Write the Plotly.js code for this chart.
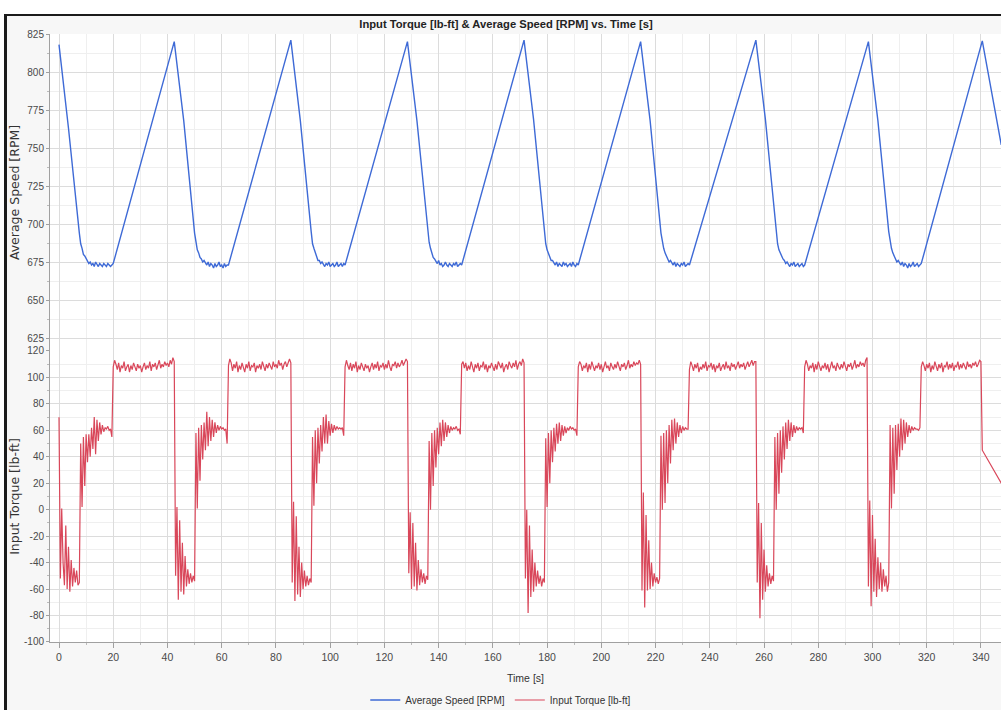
<!DOCTYPE html>
<html>
<head>
<meta charset="utf-8">
<script src="https://cdn.plot.ly/plotly-3.0.1.min.js"></script>
<style>
html,body{margin:0;padding:0;background:#ffffff;width:1001px;height:710px;overflow:hidden;}
#frame{position:absolute;left:4px;top:14px;width:997px;height:712px;border-left:3px solid #1b1b1b;border-top:2px solid #1b1b1b;background:#f7f7f7;}
#chart{width:994px;height:710px;}
</style>
</head>
<body>
<div id="frame"><div id="chart"></div></div>
<script>
// ---------------- DATA ----------------
// Start time [s] of each cycle (moment of peak speed / torque drop)
const cycleStarts = [0, 42.5, 85.5, 128.5, 171.5, 214.5, 257, 298.5, 340.5];
// Torque is logged every 0.5 s inside each cycle
const torqueSampleStep = 0.5;

const torqueCycle1 = [70, -52, 1, -40, -57, -12, -60, -28, -62, -38, -58, -44, -55, -46, -57, -55,
  50, 2, 55, 18, 57, 36, 57, 40, 62, 46, 70, 42, 68, 52, 66, 57, 64, 59, 62, 61, 63, 60, 61, 55,
  108, 113, 110, 106, 111, 104, 109, 107, 112, 105, 108, 110, 104, 109, 106, 111, 108, 105, 110, 107,
  109, 104, 108, 111, 106, 109, 107, 112, 105, 110, 108, 111, 106, 109, 113, 107, 110, 108, 112, 109,
  111, 108, 113, 110, 115];
const torqueCycle2 = [112, -50, 2, -68, -8, -62, -25, -64, -35, -58, -45, -56, -48, -55, -50, -54,
  58, 1, 62, 22, 64, 38, 66, 45, 74, 48, 70, 52, 68, 55, 66, 58, 64, 60, 63, 61, 62, 60, 61, 50,
  109, 114, 111, 105, 110, 107, 112, 104, 109, 106, 111, 108, 104, 110, 107, 112, 105, 109, 108, 111,
  104, 109, 107, 110, 106, 112, 108, 105, 110, 107, 111, 109, 106, 112, 108, 110, 107, 113, 109, 111,
  106, 110, 112, 108, 111, 114];
const torqueCycle3 = [111, -55, 6, -69, -5, -64, -28, -66, -40, -60, -46, -58, -50, -57, -52, -55,
  55, 3, 60, 20, 62, 35, 64, 44, 70, 50, 72, 50, 67, 56, 65, 58, 64, 60, 63, 61, 62, 61, 62, 56,
  108, 113, 109, 106, 111, 105, 110, 107, 112, 104, 109, 106, 111, 108, 105, 110, 107, 109, 104, 108,
  111, 106, 110, 107, 112, 105, 109, 108, 111, 106, 110, 107, 113, 108, 105, 110, 109, 112, 107, 111,
  108, 110, 113, 109, 112, 114];
const torqueCycle4 = [112, -48, -2, -60, -10, -58, -25, -61, -38, -57, -45, -55, -48, -56, -50, -53,
  52, 0, 58, 18, 60, 32, 62, 42, 66, 48, 68, 52, 66, 55, 64, 58, 63, 60, 62, 61, 63, 60, 61, 57,
  110, 112, 107, 111, 105, 109, 106, 112, 108, 104, 110, 107, 111, 105, 109, 108, 112, 106, 110, 104,
  109, 107, 111, 108, 105, 110, 106, 112, 109, 107, 111, 104, 108, 110, 106, 112, 109, 107, 111, 108,
  113, 106, 110, 112, 109, 114];
const torqueCycle5 = [111, -52, 0, -78, -12, -66, -30, -62, -40, -58, -46, -56, -50, -58, -52, -55,
  54, 2, 58, 20, 60, 36, 62, 44, 65, 50, 66, 52, 64, 56, 63, 58, 62, 60, 63, 61, 62, 60, 61, 56,
  108, 112, 110, 105, 109, 107, 111, 104, 110, 106, 112, 108, 105, 109, 107, 111, 106, 110, 104, 108,
  112, 107, 109, 105, 111, 108, 106, 110, 107, 112, 109, 105, 110, 108, 111, 106, 109, 113, 107, 110,
  108, 112, 109, 111, 110, 113];
const torqueCycle6 = [110, -61, 13, -74, -4, -61, -23, -60, -40, -58, -48, -55, -51, -56, -52,
  56, 0, 58, 5, 60, 20, 64, 35, 68, 45, 69, 50, 66, 55, 64, 58, 63, 60, 62, 61, 61,
  106, 112, 109, 105, 110, 107, 111, 104, 108, 106, 110, 107, 112, 105, 109, 108, 111, 106, 110, 104,
  109, 107, 111, 105, 108, 110, 106, 112, 107, 109, 105, 111, 108, 110, 106, 109, 112, 107, 110, 108,
  111, 106, 109, 112, 108, 110, 113, 109, 112];
const torqueCycle7 = [112, -55, 5, -82, -10, -68, -30, -62, -42, -58, -48, -56, -50, -54,
  55, 0, 58, 12, 60, 28, 63, 38, 66, 46, 68, 52, 66, 55, 64, 58, 63, 60, 62, 61, 62, 58,
  108, 113, 110, 105, 109, 107, 111, 104, 110, 106, 112, 108, 105, 109, 107, 111, 106, 110, 104, 108,
  112, 107, 109, 105, 111, 108, 106, 110, 107, 112, 109, 105, 110, 108, 111, 106, 109, 113, 107, 110,
  108, 112, 109, 111, 108, 113, 115];
const torqueCycle8 = [-58, 7, -73, -4, -62, -22, -66, -36, -60, -40, -62, -45, -58, -50, -62, -55,
  64, 1, 62, 12, 64, 30, 65, 40, 69, 45, 68, 50, 66, 55, 64, 58, 63, 60, 62, 61, 61, 60, 62,
  108, 112, 109, 105, 110, 107, 111, 104, 109, 106, 112, 108, 105, 110, 107, 111, 104, 109, 108, 112,
  106, 110, 107, 111, 105, 109, 108, 112, 106, 110, 107, 111, 109, 106, 112, 108, 110, 107, 111, 109,
  112, 108, 110, 113, 112];
const torqueCycle9 = [45];
const torqueTailTimes = [347.5];
const torqueTailValues = [20];

// Speed: first values at these offsets after the cycle start, then the
// settling/bottom part logged every 0.5 s from 7.5 s; the rise to the next peak is a straight run.
const speedDropOffsets = [0, 3.5];
const speedBottomOffset = 7.5;
const speedBottomStep = 0.5;
const speedCycle1 = [818, 763, 694, 687, 684, 680, 679, 677, 676, 674, 675, 673, 674, 672, 675, 673, 672, 674, 673, 672, 674, 673, 672, 674, 673, 672, 673, 674];
const speedCycle2 = [820, 768, 694, 688, 683, 681, 678, 677, 675, 676, 674, 673, 675, 672, 674, 673, 671, 674, 672, 673, 675, 672, 673, 671, 674, 672, 673, 673];
const speedCycle3 = [821, 768, 695, 687, 684, 681, 679, 676, 676, 674, 675, 673, 672, 674, 673, 675, 672, 673, 674, 672, 673, 675, 672, 673, 674, 672, 674, 673];
const speedCycle4 = [820, 768, 694, 688, 684, 680, 678, 677, 675, 674, 676, 673, 674, 672, 673, 675, 673, 672, 674, 673, 672, 674, 673, 675, 672, 673, 674, 673];
const speedCycle5 = [821, 769, 693, 687, 683, 681, 678, 676, 676, 674, 673, 675, 672, 674, 673, 672, 675, 673, 674, 672, 673, 674, 672, 675, 673, 672, 674, 673];
const speedCycle6 = [820, 768, 694, 688, 684, 681, 679, 677, 675, 676, 674, 673, 675, 672, 674, 673, 672, 674, 673, 675, 672, 673, 674, 673];
const speedCycle7 = [821, 769, 694, 687, 683, 681, 678, 677, 676, 674, 675, 673, 672, 674, 673, 675, 672, 673, 674, 672, 673, 674, 672, 673];
const speedCycle8 = [820, 768, 695, 688, 684, 681, 679, 677, 675, 676, 674, 673, 675, 672, 674, 673, 671, 674, 672, 673, 675, 672, 673, 674, 672, 673, 674];
const speedCycle9 = [820.5];
const speedTailTimes = [347.5];
const speedTailValues = [752];

const seriesNames = ['Average Speed [RPM]', 'Input Torque [lb-ft]'];
const xTickStep = 20;
const speedTickValues = [625, 650, 675, 700, 725, 750, 775, 800, 825];
const torqueTickValues = [-100, -80, -60, -40, -20, 0, 20, 40, 60, 80, 100, 120];
const torqueTickLabels = ['-100', '-80', '-60', '-40', '-20', '0', '20', '40', '60', '80', '100', '120'];

// ---------------- BUILD SERIES ----------------
const torqueCycles = [torqueCycle1, torqueCycle2, torqueCycle3, torqueCycle4, torqueCycle5,
  torqueCycle6, torqueCycle7, torqueCycle8, torqueCycle9];
const speedCycles = [speedCycle1, speedCycle2, speedCycle3, speedCycle4, speedCycle5,
  speedCycle6, speedCycle7, speedCycle8, speedCycle9];

const tqX = [], tqY = [];
torqueCycles.forEach((vals, k) => vals.forEach((v, j) => {
  tqX.push(cycleStarts[k] + j * torqueSampleStep); tqY.push(v);
}));
tqX.push(...torqueTailTimes); tqY.push(...torqueTailValues);

const spX = [], spY = [];
speedCycles.forEach((vals, k) => vals.forEach((v, j) => {
  const rel = j < speedDropOffsets.length ? speedDropOffsets[j]
    : speedBottomOffset + (j - speedDropOffsets.length) * speedBottomStep;
  spX.push(cycleStarts[k] + rel); spY.push(v);
}));
spX.push(...speedTailTimes); spY.push(...speedTailValues);

// ---------------- PLOT ----------------
const sans = 'Liberation Sans, Arial, sans-serif';
const yTickFont = {family: sans, size: 10, color: '#4a4a4a'};
const xTickFont = {family: sans, size: 10.5, color: '#4a4a4a'};
const splitFrac = 0.47862;

const traces = [
  {x: spX, y: spY, xaxis: 'x', yaxis: 'y', type: 'scatter', mode: 'lines',
   name: seriesNames[0], line: {color: '#3e6ad6', width: 1.4}},
  {x: tqX, y: tqY, xaxis: 'x', yaxis: 'y2', type: 'scatter', mode: 'lines',
   name: seriesNames[1], line: {color: '#d9475a', width: 1.2}}
];

const gridMajor = '#dcdcdc', gridMinor = '#efefef', lineCol = '#a0a0a0';

// figure is 710 px tall (bottom 16 px fall outside the window, as in the cropped original)
const layout = {
  width: 994, height: 710,
  margin: {l: 43, r: 0, t: 18, b: 84, pad: 0},
  paper_bgcolor: '#f7f7f7', plot_bgcolor: '#ffffff',
  showlegend: true,
  title: {text: 'Input Torque [lb-ft] & Average Speed [RPM] vs. Time [s]',
    font: {family: sans, size: 11.2, color: '#222222', weight: 'bold'},
    x: 0.502, xref: 'container', xanchor: 'center',
    y: 1 - 8 / 710, yref: 'container', yanchor: 'middle'},
  xaxis: {domain: [0, 1], anchor: 'y2', range: [-3.32, 347.4],
    tick0: 0, dtick: xTickStep, ticks: 'outside', ticklen: 5, tickcolor: lineCol,
    ticklabelstandoff: 0,
    showline: true, linecolor: lineCol, linewidth: 1, zeroline: false,
    showgrid: true, gridcolor: gridMajor, gridwidth: 1,
    minor: {dtick: xTickStep / 2, ticks: 'outside', ticklen: 2, tickcolor: '#bbbbbb', showgrid: true, gridcolor: gridMinor},
    tickfont: xTickFont, automargin: false,
    title: {text: 'Time [s]', font: {family: sans, size: 10.5, color: '#333333'}, standoff: 13}},
  yaxis: {domain: [splitFrac, 1], anchor: 'x', range: [616.45, 825],
    tickmode: 'array', tickvals: speedTickValues, ticks: 'outside', ticklen: 3, tickcolor: lineCol,
    showline: true, linecolor: lineCol, linewidth: 1, zeroline: false,
    showgrid: true, gridcolor: gridMajor,
    minor: {dtick: 12.5, tick0: 625, ticks: 'outside', ticklen: 2, tickcolor: '#bbbbbb', showgrid: true, gridcolor: gridMinor},
    tickfont: yTickFont, automargin: false,
    title: {text: 'Average Speed [RPM]', font: {family: 'DejaVu Sans, sans-serif', size: 12.5, color: '#333333'}, standoff: 6}},
  yaxis2: {domain: [0, splitFrac], anchor: 'x', range: [-100, 120],
    tickmode: 'array', tickvals: torqueTickValues, ticktext: torqueTickLabels,
    ticks: 'outside', ticklen: 3, tickcolor: lineCol,
    showline: true, linecolor: lineCol, linewidth: 1, zeroline: false,
    showgrid: true, gridcolor: gridMajor,
    minor: {dtick: 10, tick0: 0, ticks: 'outside', ticklen: 2, tickcolor: '#bbbbbb', showgrid: true, gridcolor: gridMinor},
    tickfont: yTickFont, automargin: false,
    title: {text: 'Input Torque [lb-ft]', font: {family: 'DejaVu Sans, sans-serif', size: 12.5, color: '#333333'}, standoff: 6}},
  legend: {orientation: 'h', x: 0.474, xanchor: 'center', y: -(700 - 642) / 608, yanchor: 'middle',
    font: {family: sans, size: 10, color: '#333333'}, bgcolor: 'rgba(0,0,0,0)', itemwidth: 30}
};

Plotly.newPlot('chart', traces, layout, {displayModeBar: false, staticPlot: true});
</script>
</body>
</html>
